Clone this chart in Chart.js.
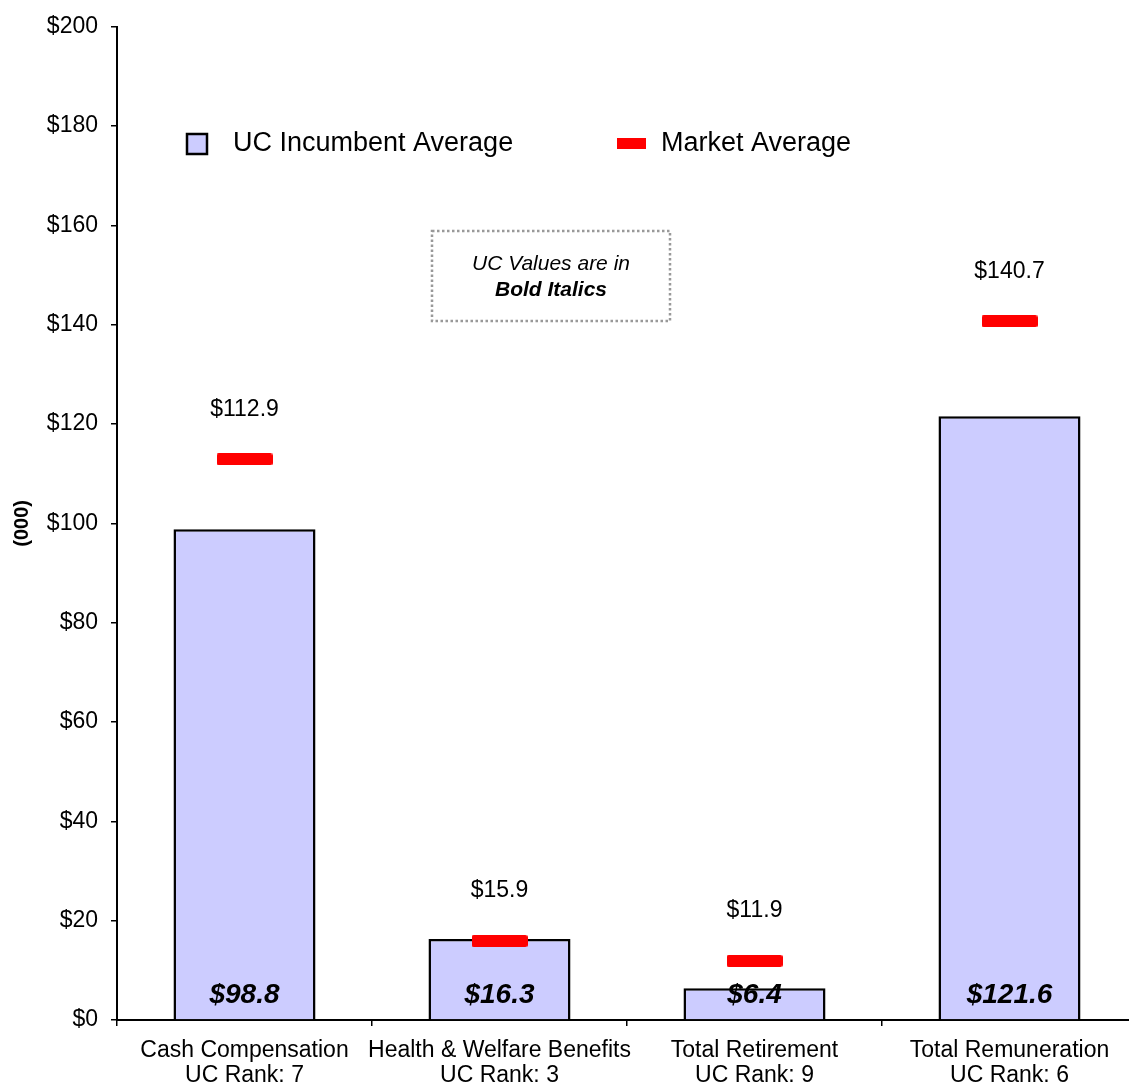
<!DOCTYPE html>
<html>
<head>
<meta charset="utf-8">
<title>UC vs Market Compensation</title>
<script src="https://cdn.jsdelivr.net/npm/chart.js@4.4.1/dist/chart.umd.min.js"></script>
<style>
  html, body { margin: 0; padding: 0; background: #fff; overflow: hidden; }
  canvas { display: block; }
</style>
</head>
<body>
<canvas id="compChart" width="1144" height="1084"></canvas>
<script>
// --- Data ---
const categories = [
  ['Cash Compensation', 'UC Rank: 7'],
  ['Health & Welfare Benefits', 'UC Rank: 3'],
  ['Total Retirement', 'UC Rank: 9'],
  ['Total Remuneration', 'UC Rank: 6']
];
const ucIncumbent = [98.8, 16.3, 6.4, 121.6];
const marketAverage = [112.9, 15.9, 11.9, 140.7];
const yTicks = [0, 20, 40, 60, 80, 100, 120, 140, 160, 180, 200];

const FONT = '"Liberation Sans", Arial, sans-serif';
const BAR_FILL = '#ccccff';
const MARKET_RED = '#ff0000';

// Red dash used as the point style for market averages
const marker = document.createElement('canvas');
marker.width = 56;
marker.height = 12;
const mctx = marker.getContext('2d');
mctx.fillStyle = MARKET_RED;
mctx.beginPath();
mctx.roundRect(0, 0, 56, 12, 2);
mctx.fill();

// --- Labels, legend and note box ---
const overlayPlugin = {
  id: 'overlay',
  afterDatasetsDraw(chart) {
    const { ctx, scales: { x, y } } = chart;
    ctx.save();
    ctx.fillStyle = '#000';
    ctx.textAlign = 'center';
    ctx.textBaseline = 'middle';

    // market values above each red dash
    ctx.font = `23px ${FONT}`;
    marketAverage.forEach((v, i) => {
      ctx.fillText('$' + v.toFixed(1), x.getPixelForValue(i), y.getPixelForValue(v) - 50);
    });

    // UC values near the foot of each bar
    ctx.font = `italic bold 28px ${FONT}`;
    ucIncumbent.forEach((v, i) => {
      ctx.fillText('$' + v.toFixed(1), x.getPixelForValue(i), y.getPixelForValue(0) - 25);
    });

    // legend
    ctx.fillStyle = BAR_FILL;
    ctx.fillRect(187, 134, 20, 20);
    ctx.strokeStyle = '#000';
    ctx.lineWidth = 2.5;
    ctx.strokeRect(187, 134, 20, 20);
    ctx.fillStyle = MARKET_RED;
    ctx.fillRect(617, 138, 29, 11);
    ctx.fillStyle = '#000';
    ctx.textAlign = 'left';
    ctx.font = `27px ${FONT}`;
    ctx.fillText('UC Incumbent Average', 233, 144);
    ctx.fillText('Market Average', 661, 144);

    // dotted note box
    ctx.strokeStyle = '#999';
    ctx.lineWidth = 2.5;
    ctx.setLineDash([2.5, 2.5]);
    ctx.strokeRect(432, 231, 238, 90);
    ctx.setLineDash([]);
    ctx.textAlign = 'center';
    ctx.font = `italic 21px ${FONT}`;
    ctx.fillText('UC Values are in', 551, 264);
    ctx.font = `italic bold 21px ${FONT}`;
    ctx.fillText('Bold Italics', 551, 290);
    ctx.restore();
  }
};

const ctx = document.getElementById('compChart').getContext('2d');

const compChart = new Chart(ctx, {
  type: 'bar',
  data: {
    labels: categories,
    datasets: [
      {
        type: 'line',
        label: 'Market Average',
        data: marketAverage,
        showLine: false,
        pointStyle: marker,
        pointRadius: 6,
        pointHoverRadius: 6,
        order: 0
      },
      {
        label: 'UC Incumbent Average',
        data: ucIncumbent,
        backgroundColor: BAR_FILL,
        borderColor: '#000',
        borderWidth: 2.5,
        barPercentage: 0.557,
        categoryPercentage: 1,
        order: 1
      }
    ]
  },
  options: {
    responsive: false,
    animation: false,
    layout: { padding: { top: 22, right: 3, left: 0, bottom: 0 } },
    plugins: {
      legend: { display: false },
      tooltip: { enabled: false }
    },
    scales: {
      x: {
        grid: {
          offset: true,
          drawOnChartArea: false,
          drawTicks: true,
          tickLength: 6,
          color: '#000',
          lineWidth: 1.5
        },
        border: { color: '#000', width: 2 },
        ticks: {
          color: '#000',
          font: { family: FONT, size: 23, lineHeight: 1.1 },
          padding: 12,
          maxRotation: 0,
          autoSkip: false
        },
        afterFit(scale) { scale.height = 64; }
      },
      y: {
        min: 0,
        max: 200,
        afterBuildTicks(scale) {
          scale.ticks = yTicks.map(v => ({ value: v }));
        },
        grid: {
          drawOnChartArea: false,
          drawTicks: true,
          tickLength: 6,
          color: '#000',
          lineWidth: 1.5
        },
        border: { color: '#000', width: 2 },
        ticks: {
          color: '#000',
          font: { family: FONT, size: 23 },
          padding: 13,
          callback: v => '$' + v
        },
        title: {
          display: true,
          text: '(000)',
          color: '#000',
          font: { family: FONT, size: 20, weight: 'bold' },
          padding: { top: 10, bottom: 0 }
        },
        afterFit(scale) { scale.width = 117; }
      }
    }
  },
  plugins: [overlayPlugin]
});
</script>
</body>
</html>
